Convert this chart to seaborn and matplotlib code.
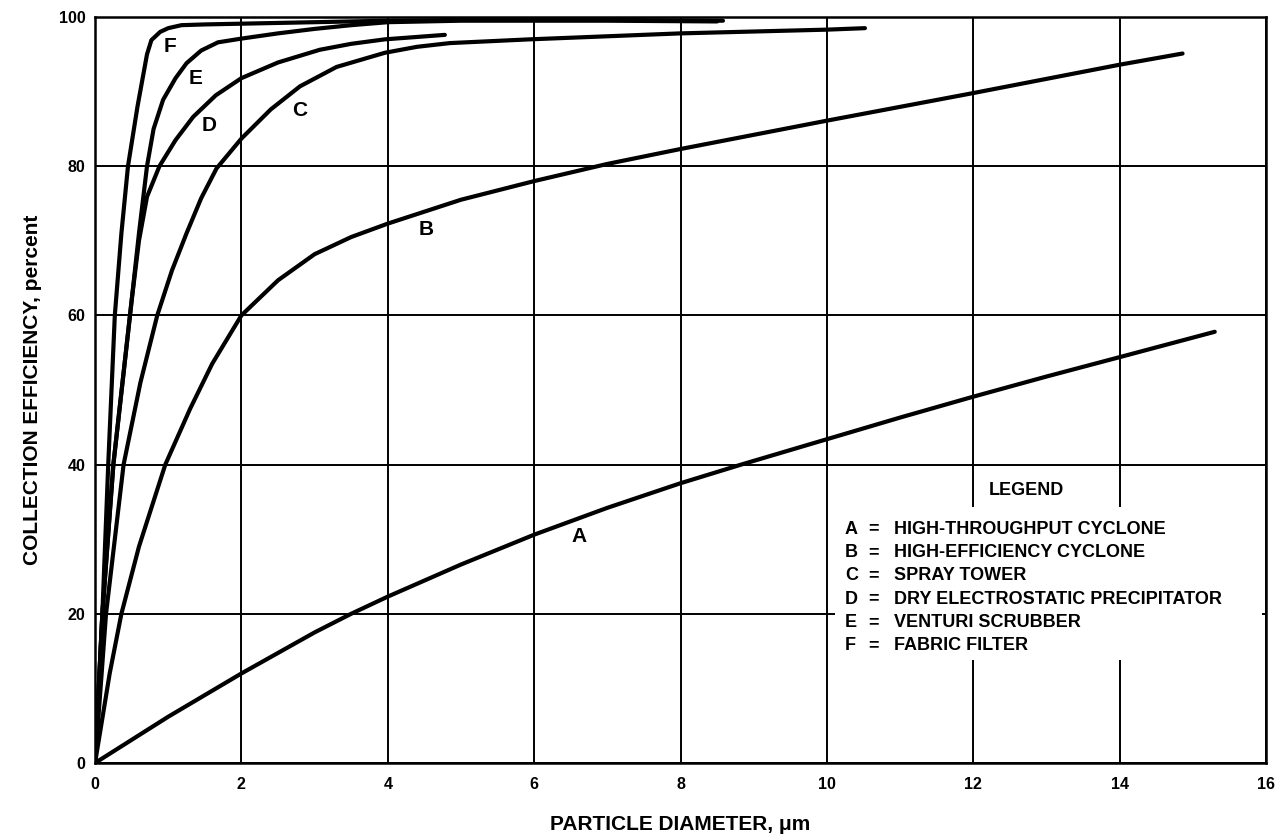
import matplotlib
matplotlib.use("Agg")
import matplotlib.pyplot as plt
import seaborn as sns
import pandas as pd
from matplotlib.patches import Rectangle

# ---- data ----
A_x = [0, 1, 2, 3, 3.5, 4, 5, 6, 7, 8, 8.83, 10, 11, 12, 13, 14, 15.3]
A_y = [0, 6.2, 12, 17.5, 20, 22.3, 26.6, 30.6, 34.2, 37.5, 40, 43.4, 46.3, 49.1, 51.8, 54.4, 57.8]

B_x = [0, 0.2, 0.36, 0.6, 0.96, 1.3, 1.6, 2.0, 2.5, 3.0, 3.5, 4.0, 5.0, 6.0, 7.0, 8.0, 10.0, 12.0, 14.0, 14.86]
B_y = [0, 12, 20, 29, 40, 47.5, 53.5, 60, 64.7, 68.2, 70.5, 72.3, 75.5, 78.0, 80.3, 82.3, 86.1, 89.8, 93.6, 95.1]

C_x = [0, 0.15, 0.39, 0.62, 0.85, 1.05, 1.25, 1.45, 1.66, 2.0, 2.4, 2.8, 3.3, 3.96, 4.4, 4.85, 5.94, 8.0, 10.0, 10.52]
C_y = [0, 20, 40, 51, 60, 66, 71, 75.7, 79.7, 83.7, 87.6, 90.7, 93.3, 95.2, 96.0, 96.5, 97.0, 97.8, 98.3, 98.5]

D_x = [0, 0.1, 0.25, 0.5, 0.6, 0.71, 0.88, 1.1, 1.34, 1.65, 2.0, 2.5, 3.07, 3.5, 3.96, 4.78]
D_y = [0, 20, 40, 62, 70, 75.9, 80, 83.5, 86.6, 89.5, 91.8, 93.9, 95.6, 96.4, 97.0, 97.6]

E_x = [0, 0.1, 0.25, 0.5, 0.6, 0.71, 0.8, 0.93, 1.1, 1.25, 1.45, 1.68, 2.0, 2.5, 3, 3.5, 4, 5, 6, 7, 8.5]
E_y = [0, 20, 40, 62, 71, 80, 85, 88.9, 91.8, 93.8, 95.5, 96.6, 97.1, 97.8, 98.4, 98.9, 99.3, 99.5, 99.5, 99.5, 99.4]

F_x = [0, 0.05, 0.1, 0.18, 0.27, 0.36, 0.45, 0.58, 0.71, 0.77, 0.89, 1.0, 1.18, 1.5, 2, 3, 4, 5, 6, 7, 8.58]
F_y = [0, 10, 20, 40, 60, 71, 80, 88, 95, 96.9, 98.0, 98.5, 98.9, 99.0, 99.1, 99.3, 99.5, 99.6, 99.6, 99.6, 99.5]

curve_names = ["A", "B", "C", "D", "E", "F"]
legend_desc = ["HIGH-THROUGHPUT CYCLONE", "HIGH-EFFICIENCY CYCLONE", "SPRAY TOWER",
               "DRY ELECTROSTATIC PRECIPITATOR", "VENTURI SCRUBBER", "FABRIC FILTER"]
label_pos = {"A": (6.61, 30.3), "B": (4.53, 71.5), "C": (2.8, 87.5),
             "D": (1.56, 85.5), "E": (1.37, 91.8), "F": (1.03, 96.0)}

x_ticks = [0, 2, 4, 6, 8, 10, 12, 14, 16]
y_ticks = [0, 20, 40, 60, 80, 100]

series = {"A": (A_x, A_y), "B": (B_x, B_y), "C": (C_x, C_y),
          "D": (D_x, D_y), "E": (E_x, E_y), "F": (F_x, F_y)}
rows = []
for k, (xs, ys) in series.items():
    for xv, yv in zip(xs, ys):
        rows.append({"curve": k, "d": xv, "eff": yv})
df = pd.DataFrame(rows)

# ---- style ----
sns.set_theme(style="white")
plt.rcParams["font.family"] = ["Liberation Sans", "DejaVu Sans"]
plt.rcParams["text.color"] = "black"
plt.rcParams["axes.labelcolor"] = "black"
plt.rcParams["xtick.color"] = "black"
plt.rcParams["ytick.color"] = "black"

fig = plt.figure(figsize=(12.88, 8.4), dpi=100)
ax = fig.add_axes([0.0738, 0.0917, 0.9091, 0.8881])

sns.lineplot(data=df, x="d", y="eff", hue="curve", units="curve", estimator=None,
             palette={k: "black" for k in curve_names}, linewidth=3.0,
             legend=False, ax=ax, zorder=3)

ax.set_xlim(0, 16)
ax.set_ylim(0, 100)
ax.set_xticks(x_ticks)
ax.set_yticks(y_ticks)
ax.set_xticklabels([str(t) for t in x_ticks], fontsize=11.5, fontweight="bold")
ax.set_yticklabels([str(t) for t in y_ticks], fontsize=11.5, fontweight="bold")
ax.tick_params(axis="both", length=0, colors="black")
ax.tick_params(axis="x", pad=10)
ax.tick_params(axis="y", pad=7)

ax.set_axisbelow(True)
ax.grid(True, color="black", linewidth=1.4)
for s in ax.spines.values():
    s.set_color("black")
    s.set_linewidth(1.8)
    s.set_visible(True)

ax.set_xlabel("PARTICLE DIAMETER, \u03bcm", fontsize=15, fontweight="bold",
              labelpad=17, color="black")
ax.set_ylabel("COLLECTION EFFICIENCY, percent", fontsize=15, fontweight="bold",
              labelpad=12, color="black")

# curve letters
for k in curve_names:
    xx, yy = label_pos[k]
    ax.text(xx, yy, k, fontsize=15, fontweight="bold", ha="center", va="center",
            color="black", zorder=5)

# legend box (white background over grid)
ax.add_patch(Rectangle((0.632, 0.138), 0.3646, 0.205, transform=ax.transAxes,
                       facecolor="white", edgecolor="none", zorder=1))
ax.text(0.7956, 0.3646, "LEGEND", transform=ax.transAxes, fontsize=13,
        fontweight="bold", ha="center", va="center", color="black", zorder=5)
row_y = [0.3133, 0.2820, 0.2507, 0.2195, 0.1881, 0.1568]
for k, desc, yy in zip(curve_names, legend_desc, row_y):
    ax.text(0.6405, yy, k, transform=ax.transAxes, fontsize=13, fontweight="bold",
            ha="left", va="center", color="black", zorder=5)
    ax.text(0.6652, yy, "=", transform=ax.transAxes, fontsize=13, fontweight="bold",
            ha="center", va="center", color="black", zorder=5)
    ax.text(0.6823, yy, desc, transform=ax.transAxes, fontsize=13, fontweight="bold",
            ha="left", va="center", color="black", zorder=5)

fig.savefig("out.png", dpi=100, facecolor="white")
